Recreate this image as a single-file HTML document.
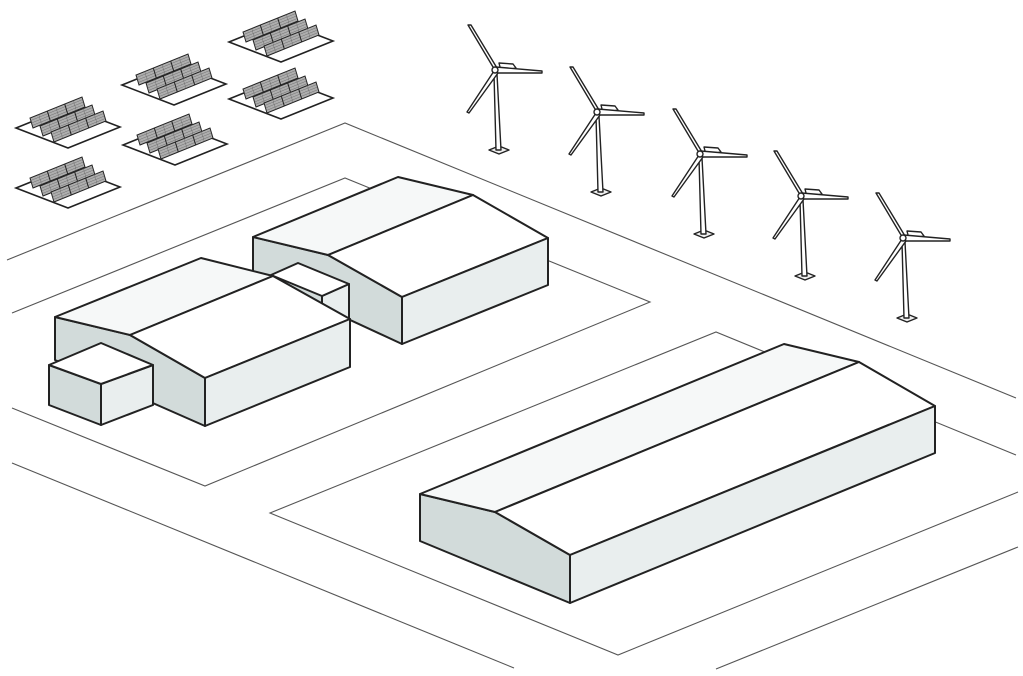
<!DOCTYPE html>
<html><head><meta charset="utf-8"><style>html,body{margin:0;padding:0;background:#fff}svg{display:block}</style></head>
<body>
<svg width="1023" height="676" viewBox="0 0 1023 676" xmlns="http://www.w3.org/2000/svg">
<defs>
<g id="row">
  <polygon points="0,0 52,-21 49,-31 -3,-10" fill="#aeaeae" stroke="#222" stroke-width="1"/>
  <path d="M17.3,-7 l-3,-10 M34.7,-14 l-3,-10 M-1.5,-5 l52,-21 M8.7,-3.5 l-3,-10 M26,-10.5 l-3,-10 M43.3,-17.5 l-3,-10 M-0.75,-2.5 l52,-21 M-2.25,-7.5 l52,-21" fill="none" stroke="#666" stroke-width="0.45"/>
  <path d="M17.3,-7 l-3,-10 M34.7,-14 l-3,-10" fill="none" stroke="#222" stroke-width="1"/>
</g>
<g id="solar">
  <polygon points="0,0 52,20 104,-1 52,-21" fill="#fff" stroke="#222" stroke-width="1.6"/>
  <use href="#row" x="17" y="0"/>
  <use href="#row" x="27" y="8"/>
  <use href="#row" x="38" y="14"/>
</g>
<g id="turbine" stroke="#222" stroke-width="1.4" fill="#fff" stroke-linejoin="round">
  <polygon points="-6,80 4,84 14,80 4,76" fill="#eee"/>
  <polygon points="-1,4 2,4 6,80 1,80"/>
  <polygon points="4,-7 18,-6 21,-2 6,1"/>
  <polygon points="-2,-3 -27,-45 -24,-45 2,-2"/>
  <polygon points="1,-3 47,1 47,3 1,3"/>
  <polygon points="-1,1 -28,42 -26,43 3,3"/>
  <circle cx="0" cy="0" r="3"/>
</g>
</defs>

<g fill="none" stroke="#555" stroke-width="1.1">
  <polyline points="7,260 345,123 1016,398"/>
  <polyline points="12,313 345,178 650,302 205,486 12,408"/>
  <polyline points="12,463 514,668"/>
  <polyline points="1016,455 716,332 270,513 618,655 1018,492"/>
  <polyline points="716,669 1018,547"/>
</g>

<use href="#solar" x="229" y="42"/>
<use href="#solar" x="122" y="85"/>
<use href="#solar" x="229" y="99"/>
<use href="#solar" x="16" y="128"/>
<use href="#solar" x="123" y="145"/>
<use href="#solar" x="16" y="188"/>

<use href="#turbine" x="495" y="70"/>
<use href="#turbine" x="597" y="112"/>
<use href="#turbine" x="700" y="154"/>
<use href="#turbine" x="801" y="196"/>
<use href="#turbine" x="903" y="238"/>

<g stroke="#222" stroke-width="2" stroke-linejoin="round">
  <polygon points="253,237 328,255 402,297 402,344 253,275" fill="#d2dbda"/>
  <polygon points="253,237 398,177 473,195 328,255" fill="#f6f8f8"/>
  <polygon points="328,255 473,195 548,238 402,297" fill="#fff"/>
  <polygon points="402,297 548,238 548,285 402,344" fill="#e9eeee"/>
  <polygon points="322,296 349,284 349,318 322,330" fill="#e9eeee"/>
  <polygon points="271,275 298,263 349,284 322,296" fill="#fff"/>
  <polygon points="55,317 130,335 205,378 205,426 55,360" fill="#d2dbda"/>
  <polygon points="55,317 201,258 273,276 130,335" fill="#f6f8f8"/>
  <polygon points="130,335 273,276 350,319 205,378" fill="#fff"/>
  <polygon points="205,378 350,319 350,367 205,426" fill="#e9eeee"/>
  <polygon points="49,365 101,384 101,425 49,405" fill="#d2dbda"/>
  <polygon points="101,384 153,365 153,405 101,425" fill="#e9eeee"/>
  <polygon points="49,365 101,343 153,365 101,384" fill="#fff"/>
  <polygon points="420,494 495,512 570,555 570,603 420,541" fill="#d2dbda"/>
  <polygon points="420,494 784,344 859,362 495,512" fill="#f6f8f8"/>
  <polygon points="495,512 859,362 935,406 570,555" fill="#fff"/>
  <polygon points="570,555 935,406 935,453 570,603" fill="#e9eeee"/>
</g>
</svg>
</body></html>
